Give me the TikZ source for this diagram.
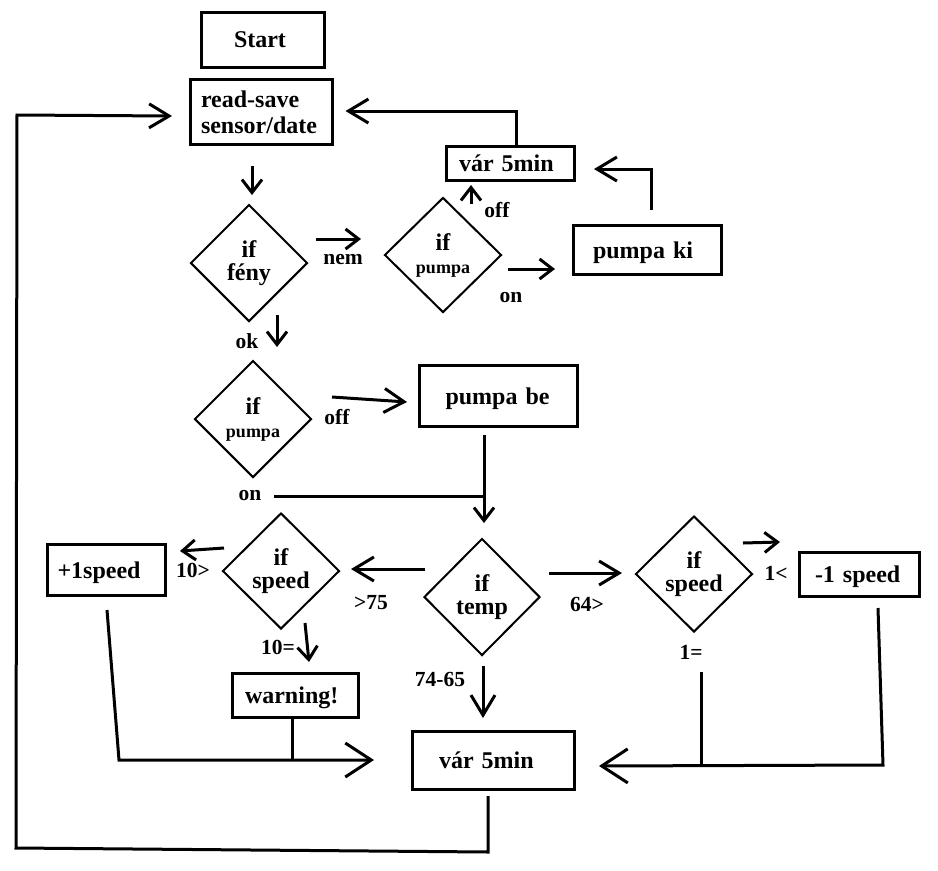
\documentclass[tikz,border=0pt]{standalone}
\usepackage{fontspec}
\setmainfont{Liberation Serif}
\usetikzlibrary{arrows.meta,calc,shapes.geometric}
\begin{document}
\begin{tikzpicture}[x=1pt,y=-1pt,
 box/.style={draw, line width=3pt, inner sep=0pt, align=left, font=\fontsize{24}{26}\selectfont\bfseries},
 onebox/.style={box, text depth=0pt},
 dia/.style={draw, diamond, line width=2pt, inner sep=0pt, align=center, font=\fontsize{24}{23}\selectfont\bfseries},
 lbl/.style={inner sep=0pt, font=\fontsize{21.5}{22}\selectfont\bfseries},
 ln/.style={line width=3pt},
 arr/.style={line width=3pt, -{Straight Barb[length=13pt,width=20pt]}},
 medarr/.style={line width=3pt, -{Straight Barb[length=20pt,width=24pt]}},
 bigarr/.style={line width=3pt, -{Straight Barb[length=26pt,width=34pt]}},
]
\fill[white] (0,0) rectangle (938,871);
\useasboundingbox (0,0) rectangle (938,871);

% boxes
\node[onebox, minimum width=123pt, minimum height=55pt, text width=58pt] (start) at (263,40) {Start};
\node[box, minimum width=142pt, minimum height=65pt, text width=121pt] (read) at (261.5,112) {read-save\\sensor/date};
\node[onebox, minimum width=128pt, minimum height=34pt, text width=103pt] (var1) at (510.5,163.5) {\mbox{vár 5min}};
\node[onebox, minimum width=148pt, minimum height=49pt, text width=109pt] (pumpaki) at (647.5,250) {\mbox{pumpa ki}};
\node[onebox, minimum width=158pt, minimum height=61pt, text width=106pt] (pumpabe) at (498.5,396) {\mbox{pumpa be}};
\node[onebox, minimum width=118pt, minimum height=51pt, text width=98pt] (plus) at (106.5,570) {+1speed};
\node[onebox, minimum width=126pt, minimum height=44pt, text width=101pt] (warning) at (295.5,695.5) {warning!};
\node[onebox, minimum width=162pt, minimum height=58pt, text width=109pt] (var2) at (493.5,760.5) {\mbox{vár 5min}};
\node[onebox, minimum width=120pt, minimum height=44pt, text width=89pt] (minus) at (859.5,574.5) {\mbox{-1 speed}};

% diamonds
\node[dia, minimum width=117pt, minimum height=117pt] (feny) at (249,263) {if\\fény};
\node[dia, minimum width=117pt, minimum height=115pt] (pumpa1) at (443,255) {if\\{\fontsize{18}{18}\selectfont pumpa}};
\node[dia, minimum width=117pt, minimum height=117pt] (pumpa2) at (253,419) {if\\{\fontsize{18}{18}\selectfont pumpa}};
\node[dia, minimum width=116pt, minimum height=117pt] (temp) at (482,597) {if\\temp};
\node[dia, minimum width=117pt, minimum height=116pt] (speedL) at (281,571) {if\\speed};
\node[dia, minimum width=117pt, minimum height=116pt] (speedR) at (694,574) {if\\speed};

% labels
\node[lbl] (lnem) at (343,260) {nem};
\node[lbl] (loff1) at (497,210) {off};
\node[lbl] (lon1) at (511,298) {on};
\node[lbl] (lok) at (247,341) {ok};
\node[lbl] (loff2) at (337,417) {off};
\node[lbl] (lon2) at (250,496) {on};
\node[lbl] (l75) at (371,603) {>75};
\node[lbl] (l10g) at (193,570) {10>};
\node[lbl] (l10e) at (278,647) {10=};
\node[lbl] (l7465) at (440,679) {74-65};
\node[lbl] (l64) at (587,604) {64>};
\node[lbl] (l1l) at (776,573) {1<};
\node[lbl] (l1e) at (691,652) {1=};

% loop corners
\coordinate (lb) at (16,848);
\coordinate (lt) at (17,115);

% connectors
\draw[arr] ($(read)+(-9.5,54)$) -- ($(feny)+(3,-68)$);
\draw[arr] ($(feny)+(67,-24)$) -- ($(pumpa1)+(-82,-16)$);
\draw[arr] ($(pumpa1)+(28,-51)$) -- ($(var1)+(-39.5,21.5)$);
\draw[medarr] ($(var1.north)+(5.5,0)$) |- ($(read.east)+(11.5,-1)$);
\draw[arr] ($(pumpa1)+(65,14)$) -- ($(pumpaki)+(-92.5,19)$);
\draw[medarr] ($(pumpaki)+(3.5,-40)$) |- ($(var1)+(83.5,5.5)$);
\draw[arr] ($(feny)+(28,52)$) -- ($(pumpa2)+(24,-72)$);
\draw[medarr] ($(pumpa2)+(79,-22)$) -- ($(pumpabe)+(-91.5,6)$);
\draw[arr] ($(pumpabe)+(-14.5,39)$) -- ($(temp)+(2,-74)$);
\draw[ln] ($(pumpa2)+(21,77)$) -- ($(pumpabe)+(-14.5,100)$);
\draw[medarr] ($(temp)+(-57,-28)$) -- ($(speedL)+(70,-2)$);
\draw[arr] ($(speedL)+(-57,-23)$) -- ($(plus)+(73.5,-19)$);
\draw[arr] ($(speedL)+(24,52)$) -- ($(warning)+(13.5,-33.5)$);
\draw[bigarr] ($(plus)+(0.5,40)$) -- ($(plus)+(12.5,190)$) -- ($(var2)+(-119.5,-0.5)$);
\draw[ln] ($(warning.south)+(-3.5,0)$) -- ($(warning)+(-3.5,64.5)$);
\draw[medarr] ($(temp)+(1,69)$) -- ($(var2)+(-10.5,-42.5)$);
\draw[medarr] ($(temp)+(67,-24)$) -- ($(speedR)+(-72,-1)$);
\draw[arr] ($(speedR)+(49,-31)$) -- ($(minus)+(-79.5,-32.5)$);
\draw[ln] ($(speedR)+(7,98)$) -- ($(speedR)+(7,192)$);
\draw[bigarr] ($(minus)+(18.5,33.5)$) -- ($(minus)+(23.5,190.5)$) -- ($(var2)+(105.5,5.5)$);
\draw[medarr] ($(var2)+(-5.5,35.5)$) -- ($(var2)+(-5.5,91.5)$) -- (lb) -- (lt) -- ($(read)+(-89.5,4)$);
\end{tikzpicture}
\end{document}
